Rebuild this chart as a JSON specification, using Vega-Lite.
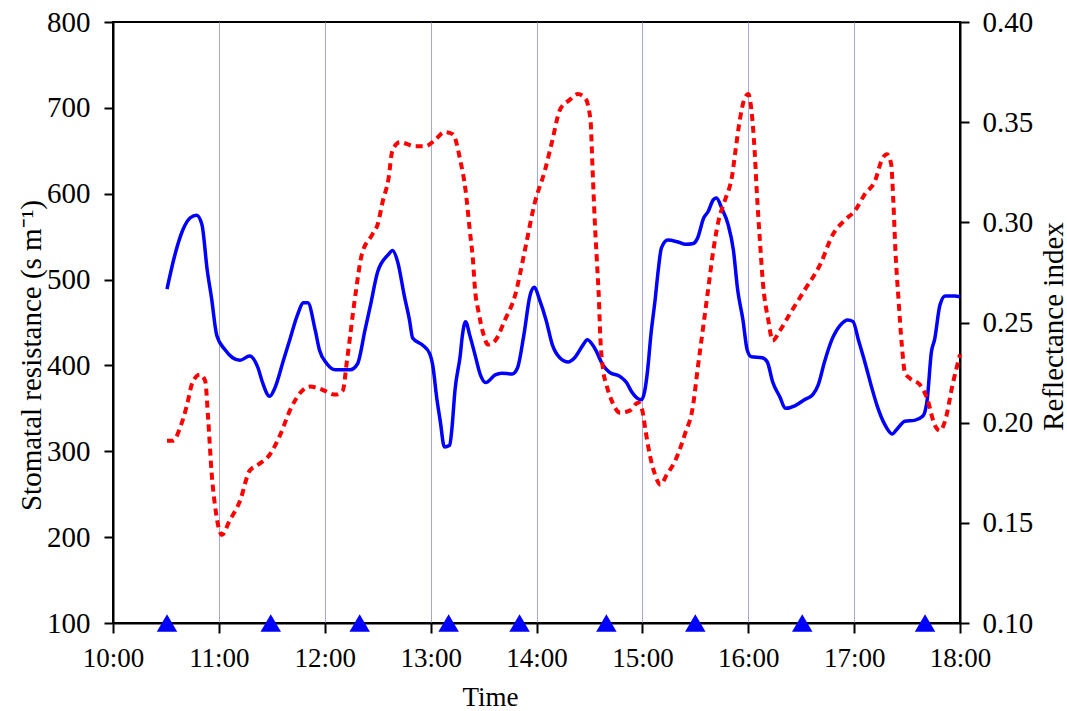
{
  "$schema": "https://vega.github.io/schema/vega-lite/v6.json",
  "width": 847,
  "height": 601,
  "autosize": {"type": "none"},
  "padding": {"left": 113, "top": 22, "right": 107, "bottom": 88},
  "background": "white",
  "config": {
    "view": {"stroke": "black", "strokeWidth": 2},
    "font": "Liberation Serif",
    "axis": {
      "labelFont": "Liberation Serif",
      "titleFont": "Liberation Serif",
      "labelFontSize": 29,
      "titleFontSize": 29,
      "titleFontWeight": "normal",
      "labelColor": "black",
      "titleColor": "black",
      "domainColor": "black",
      "domainWidth": 2,
      "tickColor": "black",
      "tickWidth": 2,
      "tickSize": 9
    }
  },
  "datasets": {
    "resistance": [
      {"time": 10.51, "resistance": 489}, {"time": 10.585, "resistance": 529}, {"time": 10.66, "resistance": 558}, {"time": 10.73, "resistance": 572}, {"time": 10.79, "resistance": 575}, {"time": 10.84, "resistance": 564}, {"time": 10.89, "resistance": 511}, {"time": 10.93, "resistance": 479}, {"time": 10.98, "resistance": 435}, {"time": 11.06, "resistance": 418}, {"time": 11.13, "resistance": 409}, {"time": 11.2, "resistance": 406}, {"time": 11.29, "resistance": 411}, {"time": 11.37, "resistance": 397}, {"time": 11.41, "resistance": 381}, {"time": 11.48, "resistance": 364}, {"time": 11.53, "resistance": 374}, {"time": 11.61, "resistance": 406}, {"time": 11.67, "resistance": 430}, {"time": 11.74, "resistance": 458}, {"time": 11.8, "resistance": 473}, {"time": 11.84, "resistance": 473}, {"time": 11.91, "resistance": 441}, {"time": 11.95, "resistance": 418}, {"time": 12.02, "resistance": 402}, {"time": 12.1, "resistance": 395}, {"time": 12.24, "resistance": 395}, {"time": 12.31, "resistance": 402}, {"time": 12.38, "resistance": 441}, {"time": 12.43, "resistance": 469}, {"time": 12.5, "resistance": 509}, {"time": 12.6, "resistance": 529}, {"time": 12.64, "resistance": 534}, {"time": 12.69, "resistance": 520}, {"time": 12.75, "resistance": 482}, {"time": 12.8, "resistance": 453}, {"time": 12.83, "resistance": 432}, {"time": 12.92, "resistance": 424}, {"time": 12.99, "resistance": 414}, {"time": 13.02, "resistance": 400}, {"time": 13.06, "resistance": 360}, {"time": 13.09, "resistance": 336}, {"time": 13.13, "resistance": 305}, {"time": 13.18, "resistance": 307}, {"time": 13.2, "resistance": 325}, {"time": 13.23, "resistance": 371}, {"time": 13.28, "resistance": 412}, {"time": 13.3, "resistance": 435}, {"time": 13.33, "resistance": 451}, {"time": 13.37, "resistance": 435}, {"time": 13.42, "resistance": 412}, {"time": 13.47, "resistance": 389}, {"time": 13.52, "resistance": 380}, {"time": 13.61, "resistance": 389}, {"time": 13.67, "resistance": 391}, {"time": 13.77, "resistance": 390}, {"time": 13.82, "resistance": 397}, {"time": 13.88, "resistance": 435}, {"time": 13.94, "resistance": 482}, {"time": 13.98, "resistance": 491}, {"time": 14.03, "resistance": 476}, {"time": 14.09, "resistance": 453}, {"time": 14.15, "resistance": 424}, {"time": 14.22, "resistance": 409}, {"time": 14.3, "resistance": 404}, {"time": 14.36, "resistance": 409}, {"time": 14.44, "resistance": 424}, {"time": 14.48, "resistance": 430}, {"time": 14.55, "resistance": 420}, {"time": 14.63, "resistance": 400}, {"time": 14.69, "resistance": 392}, {"time": 14.79, "resistance": 387}, {"time": 14.85, "resistance": 380}, {"time": 14.9, "resistance": 369}, {"time": 14.95, "resistance": 362}, {"time": 14.99, "resistance": 360}, {"time": 15.02, "resistance": 369}, {"time": 15.05, "resistance": 395}, {"time": 15.08, "resistance": 435}, {"time": 15.12, "resistance": 476}, {"time": 15.15, "resistance": 511}, {"time": 15.18, "resistance": 537}, {"time": 15.24, "resistance": 546}, {"time": 15.33, "resistance": 544}, {"time": 15.41, "resistance": 541}, {"time": 15.48, "resistance": 542}, {"time": 15.52, "resistance": 548}, {"time": 15.58, "resistance": 572}, {"time": 15.62, "resistance": 579}, {"time": 15.67, "resistance": 593}, {"time": 15.7, "resistance": 595}, {"time": 15.75, "resistance": 583}, {"time": 15.81, "resistance": 564}, {"time": 15.86, "resistance": 534}, {"time": 15.9, "resistance": 488}, {"time": 15.95, "resistance": 453}, {"time": 15.99, "resistance": 418}, {"time": 16.03, "resistance": 410}, {"time": 16.13, "resistance": 409}, {"time": 16.18, "resistance": 404}, {"time": 16.23, "resistance": 381}, {"time": 16.3, "resistance": 363}, {"time": 16.35, "resistance": 350}, {"time": 16.44, "resistance": 353}, {"time": 16.53, "resistance": 360}, {"time": 16.61, "resistance": 366}, {"time": 16.66, "resistance": 377}, {"time": 16.72, "resistance": 404}, {"time": 16.79, "resistance": 430}, {"time": 16.87, "resistance": 447}, {"time": 16.94, "resistance": 453}, {"time": 16.99, "resistance": 451}, {"time": 17.04, "resistance": 430}, {"time": 17.11, "resistance": 400}, {"time": 17.16, "resistance": 377}, {"time": 17.22, "resistance": 352}, {"time": 17.29, "resistance": 331}, {"time": 17.36, "resistance": 320}, {"time": 17.4, "resistance": 325}, {"time": 17.48, "resistance": 335}, {"time": 17.57, "resistance": 336}, {"time": 17.65, "resistance": 341}, {"time": 17.69, "resistance": 360}, {"time": 17.73, "resistance": 416}, {"time": 17.76, "resistance": 430}, {"time": 17.81, "resistance": 470}, {"time": 17.86, "resistance": 481}, {"time": 17.95, "resistance": 481}, {"time": 18.0, "resistance": 480}
    ],
    "reflectance": [
      {"time": 10.51, "index": 0.191}, {"time": 10.57, "index": 0.191}, {"time": 10.63, "index": 0.197}, {"time": 10.7, "index": 0.209}, {"time": 10.75, "index": 0.22}, {"time": 10.82, "index": 0.224}, {"time": 10.87, "index": 0.221}, {"time": 10.9, "index": 0.201}, {"time": 10.93, "index": 0.176}, {"time": 10.97, "index": 0.156}, {"time": 11.03, "index": 0.144}, {"time": 11.1, "index": 0.151}, {"time": 11.2, "index": 0.161}, {"time": 11.29, "index": 0.176}, {"time": 11.37, "index": 0.179}, {"time": 11.48, "index": 0.184}, {"time": 11.58, "index": 0.194}, {"time": 11.67, "index": 0.206}, {"time": 11.77, "index": 0.215}, {"time": 11.86, "index": 0.218}, {"time": 11.95, "index": 0.217}, {"time": 12.1, "index": 0.214}, {"time": 12.17, "index": 0.216}, {"time": 12.21, "index": 0.231}, {"time": 12.29, "index": 0.264}, {"time": 12.35, "index": 0.284}, {"time": 12.45, "index": 0.294}, {"time": 12.5, "index": 0.299}, {"time": 12.55, "index": 0.311}, {"time": 12.6, "index": 0.321}, {"time": 12.64, "index": 0.336}, {"time": 12.71, "index": 0.34}, {"time": 12.85, "index": 0.338}, {"time": 12.95, "index": 0.338}, {"time": 13.04, "index": 0.341}, {"time": 13.13, "index": 0.345}, {"time": 13.21, "index": 0.344}, {"time": 13.28, "index": 0.331}, {"time": 13.33, "index": 0.316}, {"time": 13.37, "index": 0.296}, {"time": 13.4, "index": 0.281}, {"time": 13.42, "index": 0.266}, {"time": 13.45, "index": 0.256}, {"time": 13.5, "index": 0.244}, {"time": 13.54, "index": 0.239}, {"time": 13.61, "index": 0.241}, {"time": 13.7, "index": 0.251}, {"time": 13.8, "index": 0.264}, {"time": 13.89, "index": 0.286}, {"time": 13.98, "index": 0.309}, {"time": 14.08, "index": 0.326}, {"time": 14.15, "index": 0.341}, {"time": 14.22, "index": 0.356}, {"time": 14.31, "index": 0.361}, {"time": 14.39, "index": 0.364}, {"time": 14.46, "index": 0.362}, {"time": 14.51, "index": 0.351}, {"time": 14.53, "index": 0.326}, {"time": 14.55, "index": 0.301}, {"time": 14.57, "index": 0.281}, {"time": 14.59, "index": 0.261}, {"time": 14.6, "index": 0.246}, {"time": 14.63, "index": 0.226}, {"time": 14.66, "index": 0.219}, {"time": 14.71, "index": 0.211}, {"time": 14.79, "index": 0.205}, {"time": 14.88, "index": 0.206}, {"time": 14.96, "index": 0.21}, {"time": 15.0, "index": 0.206}, {"time": 15.03, "index": 0.196}, {"time": 15.07, "index": 0.184}, {"time": 15.12, "index": 0.174}, {"time": 15.17, "index": 0.169}, {"time": 15.23, "index": 0.174}, {"time": 15.31, "index": 0.181}, {"time": 15.4, "index": 0.194}, {"time": 15.48, "index": 0.209}, {"time": 15.52, "index": 0.226}, {"time": 15.57, "index": 0.246}, {"time": 15.62, "index": 0.266}, {"time": 15.67, "index": 0.286}, {"time": 15.72, "index": 0.301}, {"time": 15.78, "index": 0.311}, {"time": 15.85, "index": 0.324}, {"time": 15.88, "index": 0.336}, {"time": 15.92, "index": 0.351}, {"time": 15.96, "index": 0.361}, {"time": 16.0, "index": 0.364}, {"time": 16.03, "index": 0.356}, {"time": 16.06, "index": 0.336}, {"time": 16.08, "index": 0.316}, {"time": 16.11, "index": 0.291}, {"time": 16.14, "index": 0.269}, {"time": 16.19, "index": 0.251}, {"time": 16.23, "index": 0.241}, {"time": 16.3, "index": 0.246}, {"time": 16.39, "index": 0.254}, {"time": 16.53, "index": 0.266}, {"time": 16.68, "index": 0.279}, {"time": 16.8, "index": 0.294}, {"time": 16.91, "index": 0.301}, {"time": 17.01, "index": 0.306}, {"time": 17.1, "index": 0.314}, {"time": 17.2, "index": 0.321}, {"time": 17.26, "index": 0.331}, {"time": 17.31, "index": 0.334}, {"time": 17.35, "index": 0.329}, {"time": 17.37, "index": 0.311}, {"time": 17.39, "index": 0.286}, {"time": 17.42, "index": 0.261}, {"time": 17.45, "index": 0.239}, {"time": 17.48, "index": 0.225}, {"time": 17.53, "index": 0.222}, {"time": 17.62, "index": 0.219}, {"time": 17.69, "index": 0.212}, {"time": 17.76, "index": 0.199}, {"time": 17.81, "index": 0.196}, {"time": 17.86, "index": 0.201}, {"time": 17.93, "index": 0.219}, {"time": 18.0, "index": 0.234}
    ],
    "markers": [
      {"time": 10.51, "level": 100}, {"time": 11.49, "level": 100}, {"time": 12.33, "level": 100}, {"time": 13.17, "level": 100}, {"time": 13.84, "level": 100}, {"time": 14.66, "level": 100}, {"time": 15.5, "level": 100}, {"time": 16.51, "level": 100}, {"time": 17.67, "level": 100}
    ]
  },
  "layer": [
    {
      "layer": [
        {
          "data": {"name": "resistance"},
          "mark": {"type": "line", "color": "#0000ff", "strokeWidth": 3.5, "interpolate": "monotone"},
          "encoding": {
            "x": {
              "field": "time", "type": "quantitative",
              "scale": {"domain": [10, 18], "nice": false, "zero": false},
              "axis": {
                "values": [10, 11, 12, 13, 14, 15, 16, 17, 18],
                "labelExpr": "datum.value + ':00'",
                "labelFontSize": 27,
                "labelFlush": false,
                "labelOverlap": false,
                "labelBound": false,
                "grid": true, "gridColor": "#a8a8d4", "gridWidth": 1,
                "tickSize": 10, "labelPadding": 12,
                "title": "Time",
                "titleFontSize": 27,
                "titleX": 377, "titleY": 82, "titleBaseline": "alphabetic", "titleAlign": "center"
              }
            },
            "y": {
              "field": "resistance", "type": "quantitative",
              "scale": {"domain": [100, 800], "nice": false, "zero": false},
              "axis": {
                "values": [100, 200, 300, 400, 500, 600, 700, 800],
                "grid": false, "tickSize": 9, "labelPadding": 14,
                "title": "Stomatal resistance (s m⁻¹)",
                "titleAngle": 270, "titleX": -73, "titleY": 333, "titleBaseline": "alphabetic", "titleAlign": "center"
              }
            }
          }
        },
        {
          "data": {"name": "markers"},
          "mark": {"type": "point", "shape": "triangle-up", "filled": true, "color": "#0000ff", "size": 420, "opacity": 1},
          "encoding": {
            "x": {"field": "time", "type": "quantitative"},
            "y": {"field": "level", "type": "quantitative"}
          }
        }
      ]
    },
    {
      "data": {"name": "reflectance"},
      "mark": {"type": "line", "color": "#ff0000", "strokeWidth": 4, "strokeDash": [7, 5], "interpolate": "monotone"},
      "encoding": {
        "x": {"field": "time", "type": "quantitative"},
        "y": {
          "field": "index", "type": "quantitative",
          "scale": {"domain": [0.1, 0.4], "nice": false, "zero": false},
          "axis": {
            "orient": "right",
            "values": [0.1, 0.15, 0.2, 0.25, 0.3, 0.35, 0.4],
            "format": ".2f",
            "grid": false, "tickSize": 9, "labelPadding": 13,
            "title": "Reflectance index",
            "titleAngle": 270, "titleX": 102, "titleY": 304, "titleBaseline": "alphabetic", "titleAlign": "center"
          }
        }
      }
    }
  ],
  "resolve": {"scale": {"y": "independent"}}
}
